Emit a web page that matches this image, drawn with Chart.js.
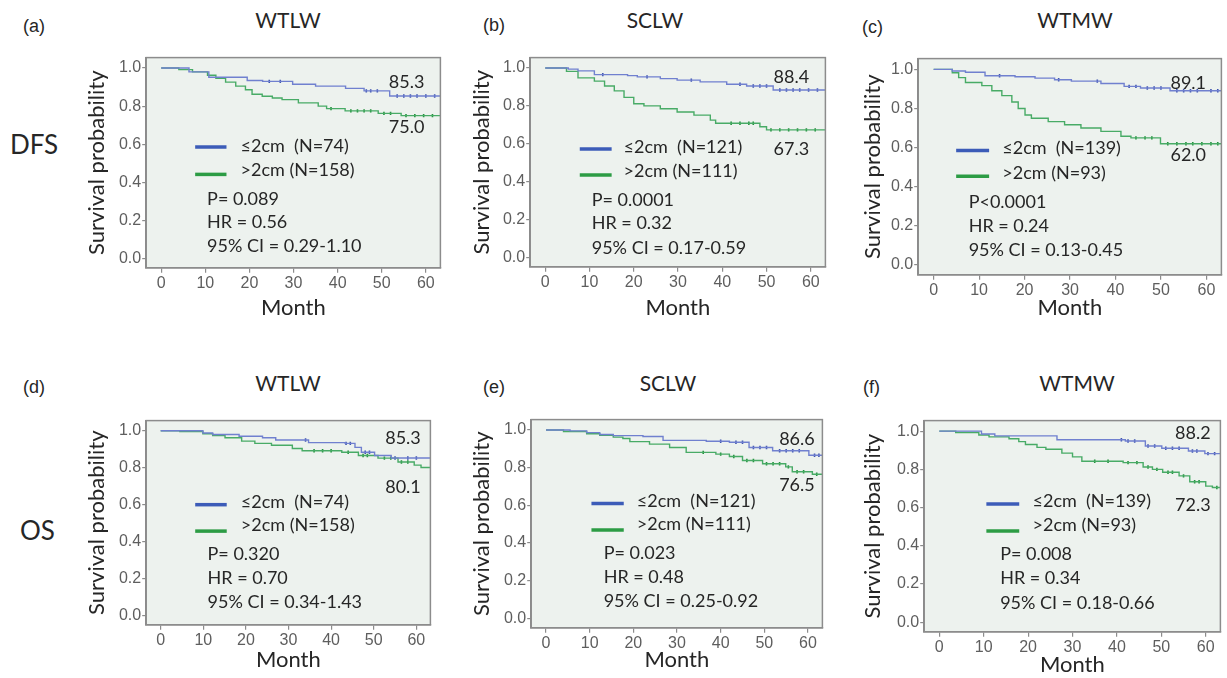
<!DOCTYPE html>
<html><head><meta charset="utf-8">
<script src="https://cdn.jsdelivr.net/npm/chart.js@4"></script>
<style>
body{margin:0;background:#fff;width:1227px;height:678px;position:relative;overflow:hidden;font-family:Lato,sans-serif;color:#262626}
.lbl{position:absolute;white-space:nowrap;line-height:1}
.c{transform:translate(-50%,-50%)}
.l{transform:translateY(-50%)}
.pl{font-family:"Liberation Sans",Arial,sans-serif;font-size:18px}
.tt{font-size:21px}
.rw{font-size:26px}
canvas{position:absolute}
</style></head><body>
<div class="lbl pl l" style="left:23px;top:26px">(a)</div>
<div class="lbl pl l" style="left:483px;top:25px">(b)</div>
<div class="lbl pl l" style="left:862px;top:27px">(c)</div>
<div class="lbl pl l" style="left:23px;top:387px">(d)</div>
<div class="lbl pl l" style="left:483px;top:387px">(e)</div>
<div class="lbl pl l" style="left:863px;top:387px">(f)</div>
<div class="lbl tt c" style="left:288px;top:19px">WTLW</div>
<div class="lbl tt c" style="left:655px;top:19px">SCLW</div>
<div class="lbl tt c" style="left:1075px;top:19px">WTMW</div>
<div class="lbl tt c" style="left:288px;top:382px">WTLW</div>
<div class="lbl tt c" style="left:668px;top:382px">SCLW</div>
<div class="lbl tt c" style="left:1077px;top:382px">WTMW</div>
<div class="lbl rw l" style="left:10px;top:144px">DFS</div>
<div class="lbl rw l" style="left:20px;top:530px">OS</div>
<script>
// ---- tick labels ----
const monthTicks = [0, 10, 20, 30, 40, 50, 60];
const probTicks = [0.0, 0.2, 0.4, 0.6, 0.8, 1.0];

// ---- Kaplan-Meier curves: [month, survival probability] ----
const dfsWTLWSmall = [[0,1],[6.3,0.98],[10.8,0.952],[19.5,0.935],[23,0.93],[29.8,0.915],[35,0.905],[41.8,0.893],[46,0.88],[51.8,0.853],[63.3,0.853]];
const dfsWTLWLarge = [[0,1],[4,0.992],[7.1,0.98],[10.5,0.962],[12.4,0.946],[14.6,0.926],[16.9,0.905],[19.1,0.886],[20.6,0.862],[22.9,0.852],[25.2,0.843],[27.4,0.834],[31.1,0.817],[35.6,0.8],[37.5,0.787],[41.7,0.775],[49.2,0.762],[54.4,0.75],[63.3,0.75]];
const dfsSCLWSmall = [[0,1],[5.2,0.994],[7.4,0.985],[11.1,0.965],[18.6,0.96],[20.8,0.953],[26,0.944],[29.8,0.936],[35,0.927],[41,0.914],[45.5,0.905],[51.5,0.884],[63.3,0.884]];
const dfsSCLWLarge = [[0,1],[4.8,0.982],[7.4,0.948],[11.1,0.931],[13.4,0.905],[15.6,0.879],[17.8,0.845],[20,0.811],[22.3,0.8],[26,0.785],[29.8,0.768],[33.6,0.751],[37.3,0.725],[38.5,0.708],[48.5,0.69],[50,0.673],[63.3,0.673]];
const dfsWTMWSmall = [[0,1],[4.1,0.992],[7,0.985],[11.3,0.967],[17.9,0.962],[22.3,0.955],[26.6,0.947],[30.3,0.94],[36.8,0.928],[41.9,0.913],[45.5,0.905],[52,0.891],[63.3,0.891]];
const dfsWTMWLarge = [[0,1],[4.1,0.983],[5.5,0.958],[7,0.933],[10.6,0.917],[12.8,0.891],[15,0.866],[17.2,0.833],[18.6,0.8],[20.1,0.767],[21.5,0.75],[25.2,0.733],[28.8,0.717],[32.4,0.7],[36.8,0.683],[41.2,0.658],[43.4,0.65],[49.9,0.62],[63.3,0.62]];
const osWTLWSmall = [[0,1],[9.9,0.988],[12.2,0.98],[18.4,0.97],[23.9,0.962],[27,0.95],[34.7,0.936],[43.3,0.932],[45.6,0.91],[47.1,0.884],[50.2,0.866],[54.1,0.853],[63.3,0.853]];
const osWTLWLarge = [[0,1],[4.5,0.996],[9.9,0.984],[12.2,0.974],[15.1,0.962],[19,0.944],[22.1,0.932],[26,0.922],[30.9,0.904],[33.2,0.892],[42.5,0.884],[46.4,0.866],[51,0.852],[55.7,0.831],[59.5,0.814],[61.1,0.801],[63.3,0.801]];
const osSCLWSmall = [[0,1],[5.5,0.995],[9.3,0.986],[12.3,0.976],[15.4,0.97],[22.2,0.965],[26.8,0.945],[36.7,0.94],[42,0.935],[46.5,0.907],[51.9,0.89],[60.2,0.866],[63.3,0.866]];
const osSCLWLarge = [[0,1],[4,0.992],[9.3,0.98],[12.3,0.972],[15.4,0.962],[17.6,0.955],[19.2,0.938],[23.7,0.925],[28.3,0.907],[32.1,0.881],[38.9,0.872],[42,0.859],[45,0.838],[49.6,0.821],[54.9,0.804],[56.4,0.778],[61,0.765],[63.3,0.765]];
const osWTMWSmall = [[0,1],[9.5,0.985],[12.5,0.975],[26.5,0.955],[41.9,0.948],[46.4,0.922],[50.1,0.91],[56.1,0.896],[59.8,0.882],[63.3,0.882]];
const osWTMWLarge = [[0,1],[3.7,0.993],[8.9,0.98],[11.2,0.97],[15.7,0.96],[17.9,0.945],[19.4,0.93],[22,0.915],[24,0.905],[27.6,0.885],[30,0.865],[32.1,0.842],[41.4,0.835],[45.9,0.812],[48,0.8],[50.3,0.785],[54,0.766],[56.4,0.735],[60,0.712],[61.5,0.705],[63.3,0.705]];

// ---- censored observations: [month, survival probability] ----
const dfsWTLWSmallCens = [[24.5,0.93],[27,0.93],[46.5,0.88],[47.5,0.88],[49,0.88],[53.5,0.853],[55,0.853],[56.5,0.853],[58,0.853],[60,0.853],[62,0.853]];
const dfsWTLWLargeCens = [[38.5,0.787],[43,0.775],[44.5,0.775],[46,0.775],[47.5,0.775],[50.5,0.762],[52,0.762],[55.5,0.75],[57.5,0.75],[59.5,0.75],[61.5,0.75]];
const dfsSCLWSmallCens = [[13,0.965],[23,0.953],[33,0.936],[44,0.914],[47,0.905],[48.5,0.905],[50,0.905],[53,0.884],[54.5,0.884],[56,0.884],[57.5,0.884],[59.5,0.884],[61.5,0.884]];
const dfsSCLWLargeCens = [[42,0.708],[44,0.708],[46,0.708],[47,0.708],[51,0.673],[53,0.673],[55,0.673],[57,0.673],[59,0.673],[61,0.673]];
const dfsWTMWSmallCens = [[14.5,0.967],[27.5,0.947],[36,0.94],[43,0.913],[44.5,0.913],[47,0.905],[48.5,0.905],[50,0.905],[53.5,0.891],[55,0.891],[56.5,0.891],[58,0.891],[61,0.891],[62.5,0.891]];
const dfsWTMWLargeCens = [[44.5,0.65],[46.5,0.65],[48,0.65],[51.5,0.62],[53.5,0.62],[55.5,0.62],[57,0.62],[59,0.62],[61,0.62],[62.5,0.62]];
const osWTLWSmallCens = [[34,0.95],[43.5,0.932],[44.5,0.932],[48,0.884],[49,0.884],[55,0.853],[58,0.853],[60,0.853]];
const osWTLWLargeCens = [[36,0.892],[38,0.892],[40,0.892],[44,0.884],[47.5,0.866],[48.5,0.866],[52.5,0.852],[54,0.852],[56.5,0.831],[58,0.831]];
const osSCLWSmallCens = [[40,0.94],[43.5,0.935],[45,0.935],[47.5,0.907],[49,0.907],[50.5,0.907],[53.5,0.89],[55,0.89],[56.5,0.89],[58,0.89],[61.5,0.866],[62.5,0.866]];
const osSCLWLargeCens = [[36,0.881],[40,0.872],[43,0.859],[46,0.838],[47.5,0.838],[50.5,0.821],[52,0.821],[53.5,0.821],[55.5,0.804],[57.5,0.778],[59,0.778],[62,0.765]];
const osWTMWSmallCens = [[41,0.955],[42.5,0.948],[44,0.948],[47,0.922],[48.5,0.922],[51,0.91],[52.5,0.91],[54,0.91],[57,0.896],[58,0.896],[60.5,0.882],[62,0.882]];
const osWTMWLargeCens = [[35,0.842],[38,0.842],[42.5,0.835],[44.5,0.835],[47,0.812],[49,0.8],[51.5,0.785],[52.5,0.785],[55,0.766],[57.5,0.735],[58.5,0.735],[62.5,0.705]];

// ---- 5-year survival labels (%) ----
const endSmall = ['85.3', '88.4', '89.1', '85.3', '86.6', '88.2'];
const endLarge = ['75.0', '67.3', '62.0', '80.1', '76.5', '72.3'];
// ---- legend labels ----
const legSmall = ['≤2cm  (N=74)', '≤2cm  (N=121)', '≤2cm  (N=139)', '≤2cm  (N=74)', '≤2cm  (N=121)', '≤2cm  (N=139)'];
const legLarge = ['>2cm (N=158)', '>2cm (N=111)', '>2cm (N=93)', '>2cm (N=158)', '>2cm (N=111)', '>2cm (N=93)'];
// ---- statistics ----
const pValues = ['P= 0.089', 'P= 0.0001', 'P<0.0001', 'P= 0.320', 'P= 0.023', 'P= 0.008'];
const hrValues = ['HR = 0.56', 'HR = 0.32', 'HR = 0.24', 'HR = 0.70', 'HR = 0.48', 'HR = 0.34'];
const ciValues = ['95% CI = 0.29-1.10', '95% CI = 0.17-0.59', '95% CI = 0.13-0.45', '95% CI = 0.34-1.43', '95% CI = 0.25-0.92', '95% CI = 0.18-0.66'];

const smallCurves = [dfsWTLWSmall, dfsSCLWSmall, dfsWTMWSmall, osWTLWSmall, osSCLWSmall, osWTMWSmall];
const largeCurves = [dfsWTLWLarge, dfsSCLWLarge, dfsWTMWLarge, osWTLWLarge, osSCLWLarge, osWTMWLarge];
const smallCens = [dfsWTLWSmallCens, dfsSCLWSmallCens, dfsWTMWSmallCens, osWTLWSmallCens, osSCLWSmallCens, osWTMWSmallCens];
const largeCens = [dfsWTLWLargeCens, dfsSCLWLargeCens, dfsWTMWLargeCens, osWTLWLargeCens, osSCLWLargeCens, osWTMWLargeCens];

// ---- layout (page pixels) & annotation placement (axis units) ----
const boxes = [
  {l:146,t:52,r:442,b:268, ytx:97,  xty:308},
  {l:530,t:52,r:827,b:267, ytx:482, xty:308},
  {l:918,t:53,r:1223,b:275,ytx:873, xty:308},
  {l:146,t:415,r:432,b:625,ytx:97,  xty:660},
  {l:531,t:414,r:824,b:628,ytx:482, xty:660},
  {l:924,t:415,r:1222,b:632,ytx:873,xty:665}
];
const place = [
  {ex:51.6,eys:0.928,eyl:0.687, lx1:7.7, lx2:14.8,lyb:0.585,lyg:0.441,tx:18.0,tyb:0.59, tyg:0.462,sx:10.4,sy:[0.313,0.19,0.062]},
  {ex:51.6,eys:0.951,eyl:0.571, lx1:7.8, lx2:15.0,lyb:0.572,lyg:0.435,tx:17.7,tyb:0.58, tyg:0.456,sx:10.5,sy:[0.303,0.178,0.05]},
  {ex:52.1,eys:0.928,eyl:0.563, lx1:4.95,lx2:12.2,lyb:0.585,lyg:0.454,tx:15.1,tyb:0.596,tyg:0.467,sx:7.7, sy:[0.322,0.197,0.075]},
  {ex:52.7,eys:0.958,eyl:0.697, lx1:8.1, lx2:15.5,lyb:0.60, lyg:0.457,tx:18.8,tyb:0.612,tyg:0.487,sx:11.0,sy:[0.334,0.204,0.074]},
  {ex:53.4,eys:0.950,eyl:0.706, lx1:10.4,lx2:17.8,lyb:0.61, lyg:0.469,tx:20.8,tyb:0.622,tyg:0.498,sx:13.2,sy:[0.347,0.218,0.089]},
  {ex:53.1,eys:0.988,eyl:0.614, lx1:10.6,lx2:18.0,lyb:0.619,lyg:0.477,tx:21.0,tyb:0.631,tyg:0.508,sx:13.7,sy:[0.357,0.229,0.10]}
];

const BLUE = '#7080cf', GREEN = '#48ab66', BLUE_L = '#3c5cb8', GREEN_L = '#2c9c44';
const BLUE_C = '#3f55b0', GREEN_C = '#23923c';
const AX = '#8c8c8c', TXT = '#262626';
const Y_TITLE = 22, X_TITLE = 22;

function kmPlugin(i){
  return {
    id:'km'+i,
    beforeDraw(chart){
      const a = chart.chartArea, c = chart.ctx;
      c.save(); c.fillStyle = '#edf2ee'; c.fillRect(a.left, a.top, a.width, a.height); c.restore();
    },
    afterDraw(chart){
      const a = chart.chartArea, c = chart.ctx, X = chart.scales.x, Y = chart.scales.y, p = place[i];
      c.save();
      c.strokeStyle = AX; c.lineWidth = 1.5;
      c.strokeRect(a.left, a.top, a.width, a.height);
      c.fillStyle = TXT; c.font = '18px Lato'; c.textBaseline = 'middle'; c.textAlign = 'left';
      c.fillText(endSmall[i], X.getPixelForValue(p.ex), Y.getPixelForValue(p.eys));
      c.fillText(endLarge[i], X.getPixelForValue(p.ex), Y.getPixelForValue(p.eyl));
      c.lineWidth = 3.5;
      c.strokeStyle = BLUE_L; c.beginPath();
      c.moveTo(X.getPixelForValue(p.lx1), Y.getPixelForValue(p.lyb)); c.lineTo(X.getPixelForValue(p.lx2), Y.getPixelForValue(p.lyb)); c.stroke();
      c.strokeStyle = GREEN_L; c.beginPath();
      c.moveTo(X.getPixelForValue(p.lx1), Y.getPixelForValue(p.lyg)); c.lineTo(X.getPixelForValue(p.lx2), Y.getPixelForValue(p.lyg)); c.stroke();
      c.fillText(legSmall[i], X.getPixelForValue(p.tx), Y.getPixelForValue(p.tyb));
      c.fillText(legLarge[i], X.getPixelForValue(p.tx), Y.getPixelForValue(p.tyg));
      [pValues[i], hrValues[i], ciValues[i]].forEach((s, k) => c.fillText(s, X.getPixelForValue(p.sx), Y.getPixelForValue(p.sy[k])));
      c.restore();
    }
  };
}

const toXY = arr => arr.map(([x, y]) => ({x, y}));
const PAD_T = 5;

boxes.forEach((b, i) => {
  const left = b.ytx - Y_TITLE * 1.2 / 2;
  const yW = b.l - left;
  const xH = b.xty - b.b + X_TITLE * 1.2 / 2;
  const W = Math.round(yW + (b.r - b.l) + 4);
  const H = Math.round(PAD_T + (b.b - b.t) + xH);
  const cv = document.createElement('canvas');
  cv.width = W; cv.height = H;
  cv.style.left = left + 'px'; cv.style.top = (b.t - PAD_T) + 'px';
  cv.style.width = W + 'px'; cv.style.height = H + 'px';
  document.body.appendChild(cv);
  const cens = (arr, col) => ({data: toXY(arr), showLine: false, pointStyle: 'line', rotation: 90, pointRadius: 1.7, pointBorderWidth: 1.6, pointBorderColor: col, borderColor: col});
  new Chart(cv, {
    type: 'line',
    data: {datasets: [
      {data: toXY(smallCurves[i]), stepped: 'before', borderColor: BLUE, borderWidth: 1.4, pointRadius: 0, fill: false},
      {data: toXY(largeCurves[i]), stepped: 'before', borderColor: GREEN, borderWidth: 1.4, pointRadius: 0, fill: false},
      cens(smallCens[i], BLUE_C),
      cens(largeCens[i], GREEN_C)
    ]},
    options: {
      responsive: false, animation: false, events: [],
      layout: {padding: {top: PAD_T, right: W - yW - (b.r - b.l), left: 0, bottom: 0}},
      plugins: {legend: {display: false}, tooltip: {enabled: false}},
      scales: {
        x: {type: 'linear', min: -3.4, max: 63.3,
          afterBuildTicks: s => { s.ticks = monthTicks.map(v => ({value: v})); },
          afterFit: s => { s.height = xH; },
          grid: {display: true, drawOnChartArea: false, drawTicks: true, tickLength: 5, color: AX, lineWidth: 1.2},
          border: {display: true, color: AX, width: 1.5},
          ticks: {font: {family: 'Liberation Sans', size: 16}, color: '#5e5e5e', padding: 1, maxRotation: 0, autoSkip: false, callback: v => String(v)},
          title: {display: true, text: 'Month', font: {family: 'Lato', size: X_TITLE}, color: TXT, padding: 0}
        },
        y: {type: 'linear', min: -0.05, max: 1.055,
          afterBuildTicks: s => { s.ticks = probTicks.map(v => ({value: v})); },
          afterFit: s => { s.width = yW; },
          grid: {display: true, drawOnChartArea: false, drawTicks: true, tickLength: 4, color: AX, lineWidth: 1.2},
          border: {display: true, color: AX, width: 1.5},
          ticks: {font: {family: 'Liberation Sans', size: 16}, color: '#5e5e5e', padding: 1, autoSkip: false, callback: v => v.toFixed(1)},
          title: {display: true, text: 'Survival probability', font: {family: 'Lato', size: Y_TITLE}, color: TXT, padding: 0}
        }
      }
    },
    plugins: [kmPlugin(i)]
  });
});
</script>
</body></html>
